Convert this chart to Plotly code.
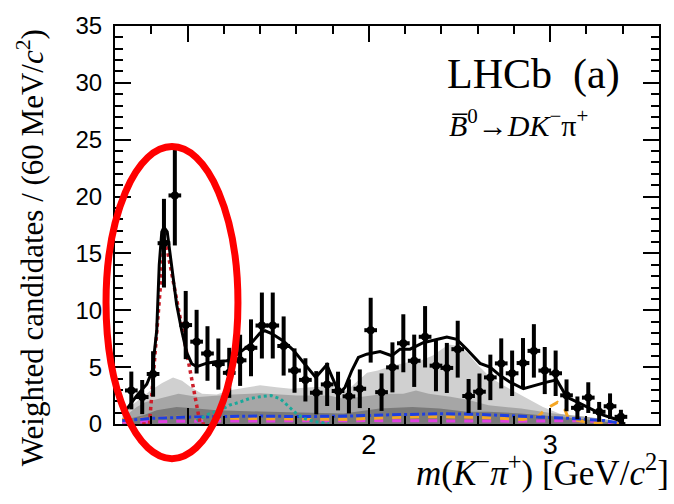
import plotly.graph_objects as go

# ---- data: weighted candidates per 60 MeV bin ----
bin_centers = [0.69, 0.75, 0.81, 0.87, 0.93, 0.99, 1.05, 1.11, 1.17, 1.23,
               1.29, 1.35, 1.41, 1.47, 1.53, 1.59, 1.65, 1.71, 1.77, 1.83,
               1.89, 1.95, 2.01, 2.07, 2.13, 2.19, 2.25, 2.31, 2.37, 2.43,
               2.49, 2.55, 2.61, 2.67, 2.73, 2.79, 2.85, 2.91, 2.97, 3.03,
               3.09, 3.15, 3.21, 3.27, 3.33, 3.39]
counts = [2.95, 2.37, 4.40, 15.9, 20.1, 8.70, 7.24, 6.20, 5.27, 4.50,
          5.60, 6.70, 8.66, 8.66, 6.86, 4.70, 3.88, 2.75, 3.48, 2.90,
          2.43, 3.10, 8.25, 2.80, 4.98, 7.10, 5.56, 7.67, 5.13, 4.93,
          6.58, 2.46, 2.84, 4.10, 5.33, 4.46, 5.36, 6.43, 4.70, 4.46,
          2.52, 1.42, 2.32, 1.07, 1.56, 0.63]
errors = [1.66, 1.50, 2.00, 3.90, 4.40, 3.00, 2.80, 2.40, 2.25, 2.20,
          2.25, 2.50, 2.90, 2.90, 2.60, 1.95, 1.90, 1.90, 1.90, 1.70,
          1.50, 1.70, 2.85, 1.65, 2.20, 2.55, 2.30, 2.70, 2.25, 2.20,
          2.50, 1.50, 1.60, 2.00, 2.20, 2.00, 2.20, 2.35, 2.07, 2.00,
          1.40, 1.00, 1.35, 0.87, 1.13, 0.62]

# ---- total fit ----
fit_x = [0.650, 0.720, 0.775, 0.806, 0.830, 0.844, 0.858, 0.870, 0.888, 0.913,
         0.940, 0.968, 0.995, 1.023, 1.051, 1.106, 1.161, 1.216, 1.252, 1.289,
         1.345, 1.400, 1.427, 1.464, 1.528, 1.583, 1.639, 1.690, 1.707, 1.768,
         1.804, 1.837, 1.869, 1.906, 1.942, 1.988, 2.062, 2.126, 2.172, 2.227,
         2.300, 2.374, 2.430, 2.485, 2.540, 2.613, 2.668, 2.724, 2.779, 2.852,
         2.917, 2.981, 3.036, 3.091, 3.147, 3.220, 3.293, 3.367, 3.413]
fit_y = [1.00, 2.50, 3.50, 4.70, 8.20, 14.0, 16.9, 17.3, 16.9, 14.0,
         10.5, 8.20, 6.30, 5.30, 5.05, 5.35, 5.50, 5.56, 5.85, 6.30,
         7.00, 8.00, 8.20, 7.95, 7.30, 6.50, 5.40, 4.40, 4.10, 5.20,
         3.80, 2.67, 3.24, 4.70, 5.85, 6.14, 6.37, 6.00, 6.58, 6.58,
         7.15, 7.44, 7.65, 7.44, 6.58, 5.33, 5.00, 4.26, 3.68, 3.10,
         3.40, 3.68, 3.88, 2.37, 1.94, 1.36, 0.78, 0.40, 0.00]

# ---- stacked background bands ----
band_light_x = [0.64, 0.72, 0.80, 0.86, 0.92, 0.97, 1.02, 1.08, 1.16, 1.24,
                1.35, 1.40, 1.49, 1.57, 1.68, 1.79, 1.85, 1.88, 1.94, 1.99,
                2.05, 2.12, 2.21, 2.29, 2.35, 2.44, 2.48, 2.54, 2.60, 2.67,
                2.74, 2.83, 2.87, 2.96, 3.05, 3.12, 3.23, 3.35, 3.41]
band_light_y = [1.00, 2.00, 3.00, 3.60, 4.10, 3.80, 3.20, 2.67, 2.60, 3.00,
                3.24, 3.40, 3.24, 3.10, 3.24, 3.30, 3.00, 2.95, 3.80, 4.50,
                4.70, 5.10, 5.40, 5.60, 6.00, 7.00, 6.90, 6.30, 5.20, 4.10,
                3.40, 2.60, 2.23, 1.50, 0.93, 0.63, 0.35, 0.20, 0.00]
band_mid_x = [0.64, 0.72, 0.77, 0.88, 0.95, 1.06, 1.17, 1.25, 1.40, 1.60,
              1.78, 1.86, 1.95, 2.09, 2.19, 2.26, 2.33, 2.45, 2.55, 2.62,
              2.66, 2.84, 3.02, 3.20, 3.35, 3.41]
band_mid_y = [0.50, 1.50, 1.94, 2.37, 2.67, 2.37, 2.50, 2.60, 2.70, 2.50,
              2.50, 2.23, 2.37, 2.67, 2.67, 2.95, 2.67, 2.40, 2.10, 1.80,
              1.65, 1.36, 0.93, 0.63, 0.30, 0.00]
band_dark_x = [0.64, 0.76, 0.83, 0.94, 1.05, 1.16, 1.40, 1.70, 1.86, 2.06,
               2.24, 2.39, 2.54, 2.66, 2.84, 3.00, 3.20, 3.41]
band_dark_y = [0.30, 0.80, 1.20, 1.50, 1.36, 1.20, 1.10, 1.00, 0.93, 1.36,
               1.50, 1.36, 1.07, 1.07, 0.93, 0.70, 0.40, 0.00]

# ---- individual resonance / background components ----
kstar892_x = [0.75, 0.79, 0.87, 0.88, 0.93, 0.99, 1.05, 1.07, 1.11]
kstar892_y = [0.00, 0.00, 16.0, 16.0, 11.8, 6.70, 1.70, 0.00, 0.00]
kstar1410_x = [1.05, 1.12, 1.18, 1.23, 1.29, 1.34, 1.40, 1.46, 1.51, 1.55,
               1.60, 1.64, 1.70, 1.78]
kstar1410_y = [0.30, 0.90, 1.20, 1.65, 1.94, 2.23, 2.40, 2.50, 2.23, 1.65,
               0.93, 0.50, 0.20, 0.05]
comp_blue_x = [0.64, 0.80, 1.00, 1.40, 1.60, 1.90, 2.10, 2.40, 2.60, 2.90,
               3.10, 3.30, 3.41]
comp_blue_y = [0.30, 0.50, 0.60, 0.70, 0.65, 0.70, 0.80, 0.90, 0.85, 0.65,
               0.50, 0.30, 0.00]
comp_orange_x = [0.64, 0.90, 1.20, 1.60, 1.90, 2.00, 2.30, 2.60, 2.85, 2.93,
                 2.98, 3.04, 3.08, 3.10, 3.20, 3.40]
comp_orange_y = [0.40, 0.60, 0.50, 0.45, 0.40, 0.50, 0.65, 0.60, 0.40, 0.63,
                 1.36, 1.90, 1.30, 0.50, 0.15, 0.00]
comp_magenta_x = [0.64, 1.00, 2.00, 2.80, 3.20, 3.41]
comp_magenta_y = [0.15, 0.25, 0.30, 0.25, 0.30, 0.00]

fig = go.Figure()

# background bands, widest first so darker shades sit on top
for xs, ys, col in [(band_light_x, band_light_y, "#d0d0d0"),
                    (band_mid_x, band_mid_y, "#a6a6a6"),
                    (band_dark_x, band_dark_y, "#7a7a7a")]:
    fig.add_trace(go.Scatter(x=xs, y=ys, mode="lines", fill="tozeroy",
                             fillcolor=col, line=dict(width=0, color=col),
                             hoverinfo="skip"))

fig.add_trace(go.Scatter(x=comp_magenta_x, y=comp_magenta_y, mode="lines",
                         line=dict(color="#e040e0", width=3, dash="dash")))
fig.add_trace(go.Scatter(x=comp_orange_x, y=comp_orange_y, mode="lines",
                         line=dict(color="#f5a623", width=3, dash="dash")))
fig.add_trace(go.Scatter(x=comp_blue_x, y=comp_blue_y, mode="lines",
                         line=dict(color="#1f3fe0", width=3, dash="dashdot")))
fig.add_trace(go.Scatter(x=kstar1410_x, y=kstar1410_y, mode="lines",
                         line=dict(color="#1aa89a", width=3, dash="dot")))
fig.add_trace(go.Scatter(x=kstar892_x, y=kstar892_y, mode="lines",
                         line=dict(color="#cc1f2a", width=3.5, dash="dot")))

# total fit
fig.add_trace(go.Scatter(x=fit_x, y=fit_y, mode="lines",
                         line=dict(color="black", width=3)))

# data points
fig.add_trace(go.Scatter(
    x=bin_centers, y=counts, mode="markers",
    marker=dict(color="black", size=8, symbol="circle"),
    error_y=dict(type="data", array=errors, visible=True,
                 color="black", thickness=4, width=0),
    error_x=dict(type="constant", value=0.035, visible=True,
                 color="black", thickness=4, width=0),
))

ytickfont = dict(family="Liberation Sans", size=24, color="black")
xtickfont = dict(family="Liberation Sans", size=27, color="black")
fig.update_layout(
    width=674, height=504,
    margin=dict(l=115, r=15, t=21, b=80),
    paper_bgcolor="white", plot_bgcolor="white",
    showlegend=False,
    xaxis=dict(range=[0.6, 3.6], tickvals=[1, 2, 3], ticktext=[" ", "2", "3"],
               ticks="inside", ticklen=16, tickwidth=2, tickcolor="black",
               minor=dict(dtick=0.2, tick0=0, ticks="inside", ticklen=8,
                          tickwidth=2, tickcolor="black"),
               showline=True, linecolor="black", linewidth=2, mirror="ticks",
               showgrid=False, zeroline=False, tickfont=xtickfont,
               ticklabelstandoff=-4),
    yaxis=dict(range=[0, 35], dtick=5, tick0=0,
               ticks="inside", ticklen=16, tickwidth=2, tickcolor="black",
               minor=dict(dtick=1, tick0=0, ticks="inside", ticklen=8,
                          tickwidth=2, tickcolor="black"),
               showline=True, linecolor="black", linewidth=2, mirror="ticks",
               showgrid=False, zeroline=False, tickfont=ytickfont,
               ticklabelstandoff=6),
)

serif = "Liberation Serif"
fig.add_annotation(xref="paper", yref="paper", x=0.607, y=0.878,
                   xanchor="left", yanchor="middle", showarrow=False,
                   text="LHCb  (a)", font=dict(family=serif, size=42, color="black"))
fig.add_annotation(xref="paper", yref="paper", x=0.61, y=0.757,
                   xanchor="left", yanchor="middle", showarrow=False,
                   text="<i>B\u0305</i><sup>0</sup>\u2192<i>DK</i><sup>\u2212</sup>\u03c0<sup>+</sup>",
                   font=dict(family=serif, size=30, color="black"))
fig.add_annotation(xref="paper", yref="paper", x=-0.156, y=0.442,
                   xanchor="center", yanchor="middle", showarrow=False,
                   textangle=-90,
                   text="Weighted candidates / (60 MeV/<i>c</i><sup>2</sup>)",
                   font=dict(family=serif, size=31, color="black"))
fig.add_annotation(xref="paper", yref="paper", x=1.022, y=-0.116,
                   xanchor="right", yanchor="middle", showarrow=False,
                   text="<i>m</i>(<i>K</i><sup>\u2212</sup><i>\u03c0</i><sup>+</sup>) [GeV/<i>c</i><sup>2</sup>]",
                   font=dict(family=serif, size=35, color="black"))

# highlight around the K*(892) peak
fig.add_shape(type="circle", xref="paper", yref="paper",
              x0=-0.0165, x1=0.226, y0=-0.087, y1=0.697,
              line=dict(color="#ff0000", width=7), layer="above")

fig.write_html("out.html")
